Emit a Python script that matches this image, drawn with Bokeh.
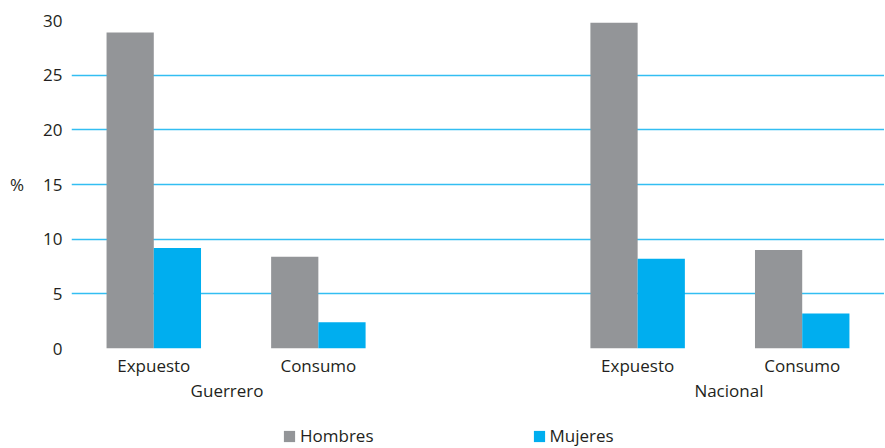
from bokeh.plotting import figure
from bokeh.layouts import column
from bokeh.models import (FactorRange, Legend, LegendItem, ColumnDataSource, FixedTicker,
                          CategoricalAxis, CategoricalScale)
from bokeh.transform import dodge
from bokeh.embed import file_html
from bokeh.resources import INLINE

regions = ["Guerrero", "Nacional"]
conditions = ["Expuesto", "Consumo"]
hombres = [28.9, 8.4, 29.8, 9.0]
mujeres = [9.2, 2.4, 8.2, 3.2]
y_ticks = [0, 5, 10, 15, 20, 25, 30]
series_names = ["Hombres", "Mujeres"]

GRAY = "#939598"
CYAN = "#00aeef"
TEXT = "#231f20"
FONT = "Open Sans"
FS = "17px"

factors = [(r, c) for r in regions for c in conditions]
src = ColumnDataSource(dict(x=factors, h=hombres, m=mujeres))

W = 884
p = figure(
    x_range=FactorRange(*factors, factor_padding=0, group_padding=0.94, range_padding=0),
    y_range=(0, 30),
    width=W, height=404,
    output_backend="svg", toolbar_location=None,
    min_border_left=71, min_border_right=0, min_border_top=20, min_border_bottom=56,
)
p.outline_line_color = None
p.background_fill_color = "white"
p.border_fill_color = "white"

bw = 0.287
r1 = p.vbar(x=dodge("x", -bw / 2, range=p.x_range), top="h", width=bw, source=src,
            fill_color=GRAY, line_color=None)
r2 = p.vbar(x=dodge("x", bw / 2, range=p.x_range), top="m", width=bw, source=src,
            fill_color=CYAN, line_color=None)

# grid
p.xgrid.grid_line_color = None
p.ygrid.ticker = FixedTicker(ticks=y_ticks)
p.ygrid.grid_line_color = CYAN
p.ygrid.grid_line_alpha = 0.8
p.ygrid.grid_line_width = 1.4

# y axis
ya = p.yaxis[0]
ya.ticker = FixedTicker(ticks=y_ticks)
ya.axis_line_color = None
ya.major_tick_line_color = None
ya.minor_tick_line_color = None
ya.major_tick_out = 0
ya.major_tick_in = 0
ya.major_label_text_font = FONT
ya.major_label_text_font_size = FS
ya.major_label_text_color = TEXT
ya.major_label_standoff = 9
ya.axis_label = "%"
ya.axis_label_text_font = FONT
ya.axis_label_text_font_size = FS
ya.axis_label_text_font_style = "normal"
ya.axis_label_text_color = TEXT
ya.axis_label_standoff = 16
ya.axis_label_orientation = "horizontal"

# x axis: sub-category labels (group level hidden, drawn by a second axis)
xa = p.xaxis[0]
xa.axis_line_color = None
xa.major_tick_line_color = None
xa.minor_tick_line_color = None
xa.major_tick_out = 0
xa.major_tick_in = 0
xa.separator_line_color = None
xa.major_label_text_font = FONT
xa.major_label_text_font_size = FS
xa.major_label_text_color = TEXT
xa.major_label_standoff = 5
xa.group_text_font_size = "1px"
xa.group_text_color = None

# group labels (Guerrero / Nacional)
p.extra_x_ranges = {"grp": FactorRange(*regions, range_padding=-0.19)}
p.extra_x_scales = {"grp": CategoricalScale()}
ga = CategoricalAxis(x_range_name="grp")
ga.axis_line_color = None
ga.major_tick_line_color = None
ga.minor_tick_line_color = None
ga.major_tick_out = 0
ga.major_tick_in = 0
ga.major_label_text_font = FONT
ga.major_label_text_font_size = FS
ga.major_label_text_color = TEXT
ga.major_label_standoff = -1
p.add_layout(ga, "below")

# legend in its own strip under the chart
lf = figure(x_range=FactorRange(*factors), y_range=(0, 1),
            width=W, height=43, output_backend="svg", toolbar_location=None,
            x_axis_location=None, y_axis_location=None,
            min_border=0, outline_line_color=None)
lf.xgrid.grid_line_color = None
lf.ygrid.grid_line_color = None
l1 = lf.vbar(x="x", top="h", width=bw, source=src, fill_color=GRAY, line_color=None, visible=False)
l2 = lf.vbar(x="x", top="m", width=bw, source=src, fill_color=CYAN, line_color=None, visible=False)

legend = Legend(
    items=[LegendItem(label=series_names[0], renderers=[l1]),
           LegendItem(label=series_names[1], renderers=[l2])],
    orientation="horizontal",
    location=(211, 0),
    glyph_width=14, glyph_height=14,
    label_standoff=4, spacing=158, padding=0, margin=0,
    border_line_color=None, background_fill_color=None,
    label_text_font=FONT, label_text_font_size=FS, label_text_color=TEXT,
)
lf.add_layout(legend, "center")

layout = column(p, lf, spacing=0)
open("out.html", "w").write(file_html(layout, INLINE))
